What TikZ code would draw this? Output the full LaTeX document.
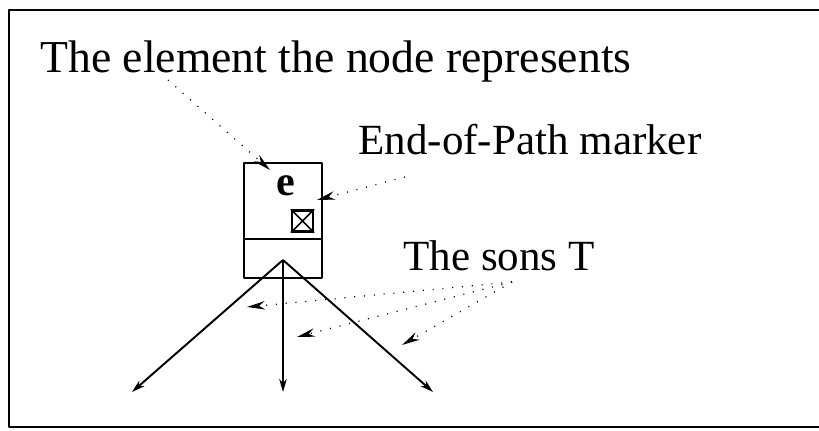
\documentclass[tikz,border=0pt]{standalone}
\usepackage{fontspec}
\setmainfont{Liberation Serif}
\usetikzlibrary{arrows.meta,positioning}

\begin{document}
\begin{tikzpicture}[x=0.02cm,y=-0.02cm,line join=round]
    \tikzstyle{lbl}=[inner sep=0pt,anchor=base west,font=\fontsize{24.5}{28}\selectfont]
    \tikzstyle{cell}=[draw,line width=1.4pt,minimum width=1.56cm,inner sep=0pt,outer sep=0pt]
    \tikzstyle{son}=[line width=1.1pt,-{Stealth[length=0.26cm,width=0.15cm]}]
    \tikzstyle{ptr}=[line width=0.7pt,dash pattern=on 0.6pt off 5pt,-{Stealth[length=0.36cm,width=0.17cm]}]
    \useasboundingbox (0,0) rectangle (819,431);
    % frame, open on the right
    \draw[line width=1.4pt] (822,10) -- (9,10) -- (9,427) -- (822,427);
    % labels
    \node[lbl,font=\fontsize{26}{30}\selectfont] (elt) at (40,72.7) {The element the node represents};
    \node[lbl] (eopl) at (358,155) {End-of-Path marker};
    \node[lbl] (sonl) at (403,270.7) {The sons T};
    % the node
    \node[cell,minimum height=1.52cm] (top) at (283,201) {};
    \node[cell,minimum height=0.78cm,below=0pt of top] (bot) {};
    \node[font=\fontsize{24}{28}\selectfont\bfseries,inner sep=0pt] (e) at (286,186) {e};
    \node[draw,line width=1.3pt,minimum size=0.42cm,inner sep=0pt] (eop) at (302.5,221) {};
    \draw[line width=0.9pt] (eop.north west) -- (eop.south east) (eop.north east) -- (eop.south west);
    % sons
    \coordinate (apex) at (283,260);
    \coordinate (sL) at (132,392);
    \coordinate (sM) at (283,392);
    \coordinate (sR) at (433,392);
    \draw[son] (apex) -- (sL);
    \draw[son] (apex) -- (sM);
    \draw[son] (apex) -- (sR);
    % pointers
    \coordinate (p1) at (168,80);
    \coordinate (t1) at (270,170);
    \draw[ptr] (p1) -- (t1);
    \coordinate (p2) at (405,177);
    \coordinate (t2) at (317,200);
    \draw[ptr] (p2) -- (t2);
    \coordinate (p3) at (512,282);
    \coordinate (tL) at (247,307);
    \coordinate (tM) at (297,337);
    \coordinate (tR) at (402,345);
    \draw[ptr] (p3) -- (tL);
    \draw[ptr] (p3) -- (tM);
    \draw[ptr] (p3) -- (tR);
  \end{tikzpicture}
\end{document}
